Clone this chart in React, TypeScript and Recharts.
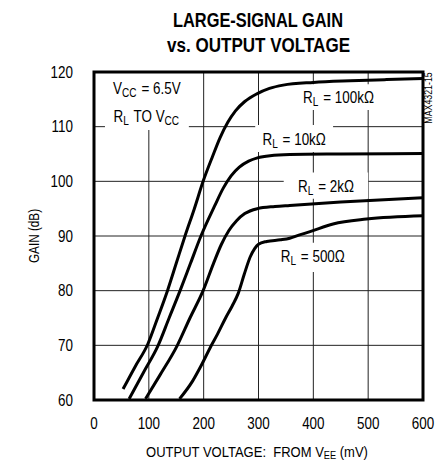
import React from "react";
import { LineChart, Line, XAxis, YAxis, CartesianGrid, ReferenceArea } from "recharts";

const FONT = '"Liberation Sans", Arial, Helvetica, sans-serif';
const NARROW = 0.84;

const xTicks = [0, 100, 200, 300, 400, 500, 600];
const yTicks = [60, 70, 80, 90, 100, 110, 120];

// output voltage (mV) / gain (dB) per load
const rl100kX = [53, 75, 98, 116, 134, 150, 166, 183, 199, 216, 230, 244, 258, 275, 297, 320, 345, 400, 467, 530, 600];
const rl100kGain = [62, 66.1, 70.2, 75, 80, 85, 90, 95, 100, 104.5, 108, 110.8, 112.9, 114.6, 116, 117, 117.6, 118.1, 118.4, 118.6, 118.8];

const rl10kX = [64, 90, 117, 137, 157, 176, 195, 220, 236, 250, 265, 282, 298, 321, 357, 450, 600];
const rl10kGain = [60.2, 65, 70, 75, 80, 85, 90, 95.5, 98.8, 101, 102.6, 103.7, 104.3, 104.7, 104.9, 105, 105.1];

const rl2kX = [94, 120, 152, 175, 199, 218, 232, 246, 260, 275, 298, 330, 357, 450, 600];
const rl2kGain = [60.2, 64.5, 70, 75, 80, 85, 88.4, 91, 92.8, 94.1, 95, 95.4, 95.6, 96.2, 97.0];

const rl500X = [156, 180, 196, 213, 225, 240, 252, 263, 274, 285, 293, 300, 315, 340, 357, 375, 394, 436, 497, 600];
const rl500Gain = [60.2, 63.5, 66.4, 69.8, 72, 75, 77.2, 79.5, 83, 86.2, 87.7, 88.5, 89, 89.3, 89.6, 90.2, 90.8, 92.2, 93.1, 93.7];

const toPoints = (xs: number[], ys: number[]) => xs.map((x, i) => ({ x, y: ys[i] }));

const series = [
  toPoints(rl100kX, rl100kGain),
  toPoints(rl10kX, rl10kGain),
  toPoints(rl2kX, rl2kGain),
  toPoints(rl500X, rl500Gain),
];

const Sub = ({ children }: { children: string }) => (
  <>
    <tspan fontSize={12} dy={3}>{children}</tspan>
    <tspan dy={-3}>{"\u200a"}</tspan>
  </>
);

// condensed text: the reference uses a narrow Helvetica
const Narrow = ({ x, y, anchor = "middle", size = 16, children }: any) => (
  <g transform={`translate(${x},${y}) scale(${NARROW},1)`}>
    <text x={0} y={0} textAnchor={anchor} fontFamily={FONT} fontSize={size} fill="#000">
      {children}
    </text>
  </g>
);

const XTick = (p: any) => (
  <Narrow x={p.x} y={p.y + 11.5}>{p.payload.value}</Narrow>
);
const YTick = (p: any) => (
  <Narrow x={p.x} y={p.y + 5.8} anchor="end">{p.payload.value}</Narrow>
);

const boxLabel = (offsets: number[], lines: React.ReactNode[]) => (props: any) => {
  const { x, y, width } = props.viewBox;
  return (
    <g>
      {lines.map((ln, i) => (
        <Narrow key={i} x={x + width / 2} y={y + offsets[i]}>{ln}</Narrow>
      ))}
    </g>
  );
};

export default function App() {
  return (
    <div style={{ position: "absolute", left: 0, top: 0, width: 445, height: 461, background: "#fff" }}>
      <LineChart width={445} height={461} margin={{ top: 72, right: 22, bottom: 31, left: 0 }}>
        <CartesianGrid stroke="#222" strokeWidth={1} />
        <XAxis type="number" dataKey="x" domain={[0, 600]} ticks={xTicks} axisLine={false} height={30}
          tickLine={false} tickSize={0} tickMargin={17} allowDataOverflow tick={<XTick />} />
        <YAxis type="number" dataKey="y" domain={[60, 120]} ticks={yTicks} width={94} axisLine={false}
          tickLine={false} tickSize={0} tickMargin={21} allowDataOverflow tick={<YTick />} />
        <ReferenceArea x1={20} x2={173} y1={109.4} y2={120} fill="#fff" fillOpacity={1} stroke="none"
          label={boxLabel([22, 49.7], [
            <>V<Sub>CC</Sub> = 6.5V</>,
            <>R<Sub>L</Sub> TO V<Sub>CC</Sub></>,
          ])} />
        <ReferenceArea x1={370} x2={522} y1={113.05} y2={117.75} fill="#fff" fillOpacity={1} stroke="none"
          label={boxLabel([19], [<>R<Sub>L</Sub> = 100kΩ</>])} />
        <ReferenceArea x1={294} x2={436} y1={105.37} y2={110.3} fill="#fff" fillOpacity={1} stroke="none"
          label={boxLabel([20], [<>R<Sub>L</Sub> = 10kΩ</>])} />
        <ReferenceArea x1={346} x2={500} y1={96.8} y2={101.6} fill="#fff" fillOpacity={1} stroke="none"
          label={boxLabel([19], [<>R<Sub>L</Sub> = 2kΩ</>])} />
        <ReferenceArea x1={328} x2={470} y1={83.4} y2={88.77} fill="#fff" fillOpacity={1} stroke="none"
          label={boxLabel([19], [<>R<Sub>L</Sub> = 500Ω</>])} />
        {series.map((d, i) => (
          <Line key={i} data={d} dataKey="y" type="monotone" stroke="#000" strokeWidth={3}
            dot={false} activeDot={false} isAnimationActive={false} />
        ))}
        <ReferenceArea x1={0} x2={600} y1={60} y2={120} fill="none" stroke="#000" strokeWidth={3} />
      </LineChart>
      <svg width={445} height={461} style={{ position: "absolute", left: 0, top: 0, pointerEvents: "none" }}>
        <text x={258} y={27} textAnchor="middle" fontFamily={FONT} fontWeight="bold" fontSize={19.5}
          textLength={170} lengthAdjust="spacingAndGlyphs" fill="#000">
          LARGE-SIGNAL GAIN
        </text>
        <text x={258.5} y={51.5} textAnchor="middle" fontFamily={FONT} fontWeight="bold" fontSize={19.5}
          textLength={183} lengthAdjust="spacingAndGlyphs" fill="#000">
          vs. OUTPUT VOLTAGE
        </text>
        <g transform="translate(39,236) rotate(-90) scale(0.84,1)">
          <text x={0} y={0} textAnchor="middle" fontFamily={FONT} fontSize={14} fill="#000">GAIN (dB)</text>
        </g>
        <g transform="translate(257,457) scale(0.84,1)">
          <text x={0} y={0} textAnchor="middle" fontFamily={FONT} fontSize={15.5} fill="#000">
            OUTPUT VOLTAGE:{"\u00a0 "}FROM V<tspan fontSize={11} dy={2}>EE</tspan><tspan dy={-2}> (mV)</tspan>
          </text>
        </g>
        <g transform="translate(432,98) rotate(-90) scale(0.84,1)">
          <text x={0} y={0} textAnchor="middle" fontFamily={FONT} fontSize={10.5} fill="#000">MAX4321-15</text>
        </g>
      </svg>
    </div>
  );
}
